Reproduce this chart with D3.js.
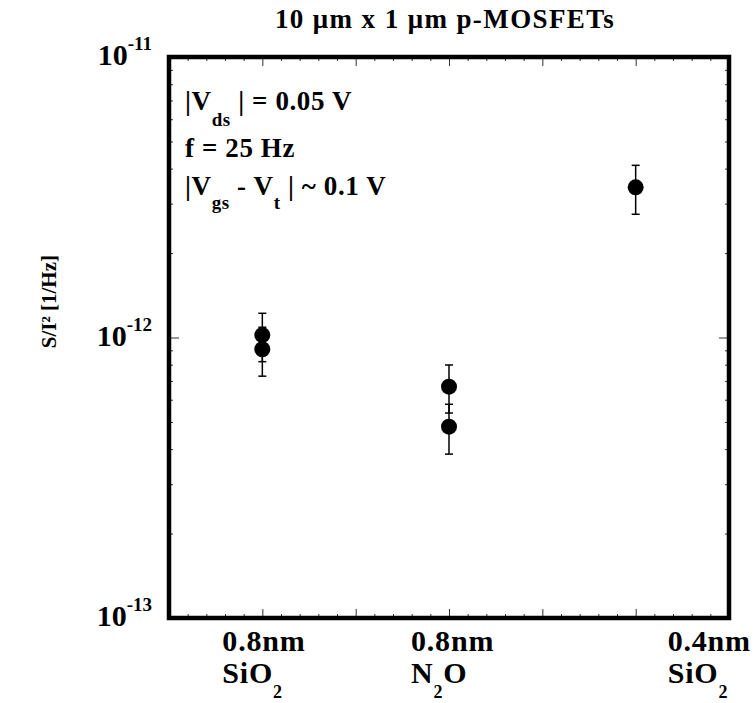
<!DOCTYPE html>
<html>
<head>
<meta charset="utf-8">
<script src="https://cdn.jsdelivr.net/npm/d3@7"></script>
<style>
  body { margin: 0; background: #fff; }
  svg { display: block; font-family: "Liberation Serif", "DejaVu Serif", serif; font-weight: bold; }
</style>
</head>
<body>
<div id="chart"></div>
<script>
// categories along x (plotted at x = 1, 3, 5 on a 0..6 axis)
var categoryPos = [1, 3, 5];
var categoryLine1 = ["0.8nm", "0.8nm", "0.4nm"];
var categoryLine2 = [["SiO", "2", ""], ["N", "2", "O"], ["SiO", "2", ""]];

// measured points: x position, noise value and +/- error
var pointX = [1, 1, 3, 3, 5];
var pointValue = [1.02e-12, 0.908e-12, 0.668e-12, 0.481e-12, 3.43e-12];
var pointError = [0.20e-12, 0.18e-12, 0.13e-12, 0.097e-12, 0.68e-12];

// y decade labels
var decades = [1e-13, 1e-12, 1e-11];
var decadeExp = ["-13", "-12", "-11"];

var W = 755, H = 703;
var frame = {left: 169, right: 729, top: 57, bottom: 618};

var svg = d3.select("#chart").append("svg")
    .attr("width", W)
    .attr("height", H);

var x = d3.scaleLinear().domain([0, 6]).range([frame.left, frame.right]);
var y = d3.scaleLog().domain([1e-13, 1e-11]).range([frame.bottom, frame.top]);

// tick values
var xMinor = d3.range(0, 6.001, 0.2).filter(function(v){ return Math.abs(v - Math.round(v)) > 1e-6; });
var xMajor = d3.range(1, 6, 1);
var yMinor = [];
[1e-13, 1e-12].forEach(function(d){ for (var k = 2; k <= 9; k++) yMinor.push(d*k); });
var yMajor = [1e-12];

function tickAxis(axisFn, scale, vals, size, transform) {
    var g = svg.append("g")
        .attr("transform", transform)
        .call(axisFn(scale).tickValues(vals).tickSize(size).tickFormat(""));
    g.select(".domain").remove();
    g.selectAll(".tick line").attr("stroke", "#333").attr("stroke-width", 1);
}

// inward ticks on all four sides
tickAxis(d3.axisBottom, x, xMinor, -4, "translate(0," + frame.bottom + ")");
tickAxis(d3.axisBottom, x, xMajor, -9, "translate(0," + frame.bottom + ")");
tickAxis(d3.axisTop, x, xMinor, -4, "translate(0," + frame.top + ")");
tickAxis(d3.axisTop, x, xMajor, -9, "translate(0," + frame.top + ")");
tickAxis(d3.axisLeft, y, yMinor, -4, "translate(" + frame.left + ",0)");
tickAxis(d3.axisLeft, y, yMajor, -10, "translate(" + frame.left + ",0)");
tickAxis(d3.axisRight, y, yMinor, -4, "translate(" + frame.right + ",0)");
tickAxis(d3.axisRight, y, yMajor, -10, "translate(" + frame.right + ",0)");

// frame
svg.append("rect")
    .attr("x", frame.left)
    .attr("y", frame.top)
    .attr("width", frame.right - frame.left)
    .attr("height", frame.bottom - frame.top)
    .attr("fill", "none")
    .attr("stroke", "#000")
    .attr("stroke-width", 4.5);

// y decade labels
var yl = svg.selectAll(".ylab")
    .data(decades)
    .enter().append("text")
        .attr("class", "ylab")
        .attr("x", 152)
        .attr("y", function(d){ return y(d) + 8; })
        .attr("text-anchor", "end")
        .attr("font-size", 30);
yl.append("tspan").text("10");
yl.append("tspan")
    .attr("font-size", 19)
    .attr("dy", -15)
    .text(function(d, i){ return decadeExp[i]; });

// y axis title (rotated)
svg.append("text")
    .attr("transform", "translate(56,255) rotate(-90)")
    .attr("text-anchor", "end")
    .attr("font-size", 21)
    .text("S/I² [1/Hz]");

// title
svg.append("text")
    .attr("x", 445)
    .attr("y", 28)
    .attr("text-anchor", "middle")
    .attr("font-size", 27)
    .attr("letter-spacing", 1.4)
    .text("10 μm x 1 μm p-MOSFETs");

// annotations inside the frame
var ann = svg.append("g").attr("font-size", 27).attr("letter-spacing", 0.6);
var a1 = ann.append("text").attr("x", 185).attr("y", 110);
a1.append("tspan").text("|V");
a1.append("tspan").attr("font-size", 19).attr("dy", 16).text("ds");
a1.append("tspan").attr("dy", -16).text(" | = 0.05 V");

ann.append("text").attr("x", 185).attr("y", 157).text("f = 25 Hz");

var a3 = ann.append("text").attr("x", 185).attr("y", 195);
a3.append("tspan").text("|V");
a3.append("tspan").attr("font-size", 19).attr("dy", 14).text("gs");
a3.append("tspan").attr("dy", -14).text("  - V");
a3.append("tspan").attr("font-size", 19).attr("dy", 14).text("t");
a3.append("tspan").attr("dy", -14).text("  | ~ 0.1 V");

// category labels under the x axis
var labelDx = [-40, -38, 32];
var cl = svg.selectAll(".cat")
    .data(categoryPos)
    .enter().append("g")
        .attr("class", "cat")
        .attr("font-size", 30)
        .attr("letter-spacing", 0.8);
cl.append("text")
    .attr("x", function(d, i){ return x(d) + labelDx[i]; })
    .attr("y", 651)
    .text(function(d, i){ return categoryLine1[i]; });
var l2 = cl.append("text")
    .attr("x", function(d, i){ return x(d) + labelDx[i]; })
    .attr("y", 683);
l2.append("tspan").text(function(d, i){ return categoryLine2[i][0]; });
l2.append("tspan").attr("font-size", 18).attr("dy", 15)
    .text(function(d, i){ return categoryLine2[i][1]; });
l2.append("tspan").attr("dy", -15)
    .text(function(d, i){ return categoryLine2[i][2]; });

// error bars
var pts = pointValue.map(function(v, i){ return {x: pointX[i], v: v, e: pointError[i]}; });
var eb = svg.selectAll(".err")
    .data(pts)
    .enter().append("g")
        .attr("class", "err")
        .attr("stroke", "#000")
        .attr("stroke-width", 1.5);
eb.append("line")
    .attr("x1", function(d){ return x(d.x); })
    .attr("x2", function(d){ return x(d.x); })
    .attr("y1", function(d){ return y(d.v + d.e); })
    .attr("y2", function(d){ return y(d.v - d.e); });
eb.append("line")
    .attr("x1", function(d){ return x(d.x) - 4; })
    .attr("x2", function(d){ return x(d.x) + 4; })
    .attr("y1", function(d){ return y(d.v + d.e); })
    .attr("y2", function(d){ return y(d.v + d.e); });
eb.append("line")
    .attr("x1", function(d){ return x(d.x) - 4; })
    .attr("x2", function(d){ return x(d.x) + 4; })
    .attr("y1", function(d){ return y(d.v - d.e); })
    .attr("y2", function(d){ return y(d.v - d.e); });

// points
svg.selectAll(".pt")
    .data(pts)
    .enter().append("circle")
        .attr("class", "pt")
        .attr("cx", function(d){ return x(d.x); })
        .attr("cy", function(d){ return y(d.v); })
        .attr("r", 8)
        .attr("fill", "#000");
</script>
</body>
</html>
